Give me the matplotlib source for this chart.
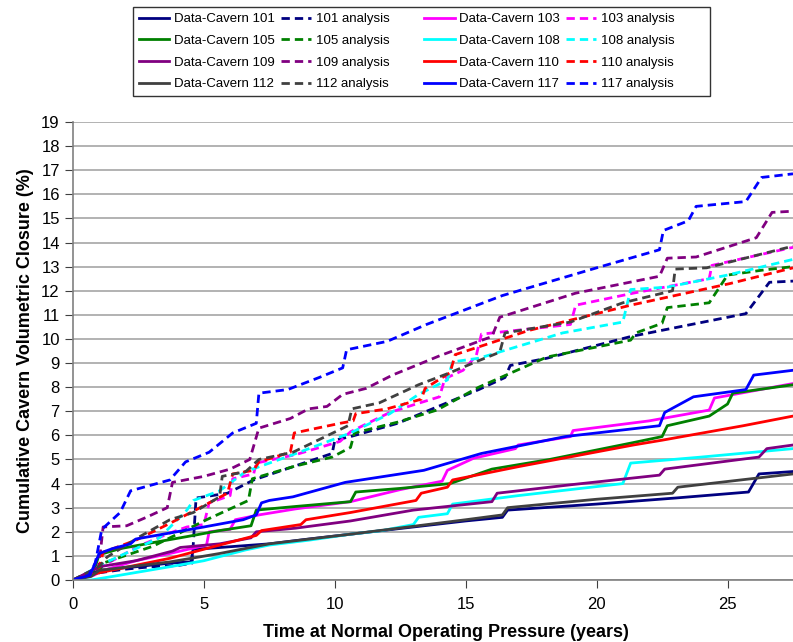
import matplotlib.pyplot as plt
import numpy as np

plt.rcParams['font.family'] = ['Liberation Sans', 'DejaVu Sans']

# ---- data (years, % closure) ----
t_101 = [0, 0.5, 1.0, 2.4, 3.7, 4.5, 4.6, 5.0, 7.5, 9.0, 10.6, 13.0, 15.0, 16.4, 16.6, 20.0, 23.0, 25.8, 26.2, 27.5]
y_101 = [0, 0.15, 0.4, 0.55, 0.7, 0.75, 1.3, 1.3, 1.5, 1.7, 1.9, 2.2, 2.45, 2.6, 2.9, 3.15, 3.4, 3.65, 4.4, 4.5]
t_101a = [0, 1.0, 2.0, 3.0, 4.0, 4.55, 4.7, 5.9, 6.9, 8.4, 9.9, 10.0, 10.6, 12.4, 15.5, 16.5, 16.7, 18.1, 21.3, 25.7, 26.6, 27.5]
y_101a = [0, 0.3, 0.45, 0.55, 0.6, 0.7, 3.4, 3.6, 4.15, 4.7, 5.25, 5.8, 5.95, 6.5, 7.9, 8.4, 8.9, 9.2, 10.1, 11.05, 12.35, 12.4]

t_103 = [0, 0.8, 1.15, 2.4, 3.7, 4.7, 5.1, 5.2, 6.0, 6.2, 7.1, 8.5, 10.6, 12.5, 14.1, 14.3, 15.3, 16.9, 17.0, 19.0, 19.1, 22.0, 24.3, 24.5, 27.5]
y_103 = [0, 0.2, 0.4, 0.8, 1.1, 1.35, 1.45, 2.0, 2.1, 2.5, 2.7, 2.95, 3.25, 3.75, 4.1, 4.55, 5.05, 5.45, 5.6, 5.95, 6.2, 6.6, 7.05, 7.55, 8.15]
t_103a = [0, 1.0, 2.5, 3.7, 4.35, 5.0, 5.2, 6.0, 6.1, 6.9, 7.0, 8.5, 10.2, 10.6, 12.1, 13.1, 14.0, 14.2, 14.9, 15.4, 15.6, 19.0, 19.2, 21.4, 24.3, 24.4, 27.5]
y_103a = [0, 0.5, 1.4, 1.95, 2.2, 2.3, 3.2, 3.5, 4.2, 4.4, 4.85, 5.2, 5.75, 6.15, 6.95, 7.3, 7.6, 8.35, 8.7, 9.3, 10.2, 10.6, 11.4, 11.9, 12.5, 13.05, 13.8]

t_105 = [0, 0.8, 1.0, 1.8, 3.05, 4.35, 5.6, 6.8, 7.0, 8.5, 10.6, 10.8, 12.5, 14.4, 16.0, 18.2, 21.4, 22.5, 22.7, 24.3, 25.0, 25.2, 27.5]
y_105 = [0, 0.4, 1.05, 1.3, 1.55, 1.8, 2.05, 2.25, 2.9, 3.05, 3.25, 3.65, 3.8, 4.0, 4.6, 5.0, 5.7, 5.95, 6.4, 6.8, 7.3, 7.75, 8.1]
t_105a = [0, 1.0, 1.15, 3.05, 5.1, 6.7, 6.85, 8.4, 9.9, 10.6, 10.75, 12.4, 13.9, 15.5, 18.1, 21.3, 21.5, 22.5, 22.7, 24.3, 25.0, 26.3, 27.5]
y_105a = [0, 0.3, 0.7, 1.4, 2.5, 3.3, 4.2, 4.7, 5.1, 5.5, 6.1, 6.55, 7.05, 8.0, 9.25, 9.95, 10.25, 10.65, 11.3, 11.5, 12.65, 12.85, 13.0]

t_108 = [0, 0.7, 1.8, 3.7, 5.0, 6.6, 7.5, 9.0, 10.6, 11.8, 13.0, 13.2, 14.3, 14.5, 17.0, 21.0, 21.3, 24.0, 27.5]
y_108 = [0, 0.0, 0.2, 0.55, 0.8, 1.25, 1.45, 1.65, 1.9, 2.05, 2.3, 2.6, 2.75, 3.15, 3.5, 4.0, 4.85, 5.1, 5.45]
t_108a = [0, 1.4, 3.3, 4.35, 4.6, 5.6, 6.6, 8.4, 10.6, 12.1, 13.2, 14.3, 14.5, 15.5, 18.7, 21.0, 21.3, 22.7, 25.0, 27.5]
y_108a = [0, 0.8, 1.75, 2.9, 3.3, 3.7, 4.5, 5.2, 6.1, 6.9, 7.7, 8.3, 9.05, 9.2, 10.25, 10.7, 12.05, 12.15, 12.65, 13.3]

t_109 = [0, 1.0, 2.4, 3.8, 4.1, 5.6, 6.8, 7.0, 8.5, 10.6, 13.0, 16.0, 16.2, 19.0, 22.4, 22.6, 26.2, 26.5, 27.5]
y_109 = [0, 0.55, 0.8, 1.2, 1.35, 1.5, 1.75, 2.0, 2.15, 2.45, 2.9, 3.25, 3.6, 3.95, 4.35, 4.6, 5.1, 5.45, 5.6]
t_109a = [0, 0.9, 1.0, 1.15, 2.05, 2.8, 3.6, 3.8, 5.0, 6.0, 6.75, 7.1, 8.3, 9.0, 9.7, 10.3, 11.2, 12.2, 14.0, 16.0, 16.3, 19.2, 22.4, 22.7, 23.8, 26.1, 26.7, 27.5]
y_109a = [0, 0.3, 0.7, 2.2, 2.25, 2.6, 3.0, 4.05, 4.3, 4.6, 5.0, 6.3, 6.7, 7.1, 7.2, 7.7, 7.95, 8.5, 9.3, 10.1, 10.9, 11.9, 12.6, 13.35, 13.4, 14.2, 15.25, 15.3]

t_110 = [0, 1.0, 3.7, 5.6, 7.0, 7.2, 8.7, 8.9, 10.6, 13.1, 13.3, 14.3, 14.5, 17.0, 21.4, 22.5, 25.6, 27.5]
y_110 = [0, 0.3, 0.9, 1.45, 1.85, 2.05, 2.3, 2.5, 2.8, 3.3, 3.6, 3.85, 4.15, 4.7, 5.6, 5.8, 6.4, 6.8]
t_110a = [0, 1.0, 1.15, 2.4, 3.7, 4.85, 5.9, 6.1, 6.9, 7.1, 8.3, 8.45, 10.2, 10.7, 10.8, 12.0, 13.3, 13.45, 14.4, 14.6, 17.4, 21.3, 25.1, 27.5]
y_110a = [0, 0.5, 1.15, 1.65, 2.35, 3.0, 3.6, 4.4, 4.55, 4.9, 5.3, 6.1, 6.5, 6.6, 6.9, 7.1, 7.5, 7.95, 8.6, 9.35, 10.35, 11.4, 12.3, 12.95]

t_112 = [0, 0.7, 1.0, 3.7, 5.6, 7.5, 10.6, 15.0, 16.4, 16.6, 20.0, 22.9, 23.1, 27.5]
y_112 = [0, 0.15, 0.4, 0.75, 1.1, 1.5, 1.9, 2.5, 2.7, 3.0, 3.35, 3.6, 3.85, 4.4]
t_112a = [0, 1.0, 1.3, 2.55, 3.7, 4.6, 5.6, 5.7, 6.6, 7.1, 8.4, 10.5, 10.65, 11.7, 13.2, 14.4, 15.5, 16.3, 16.5, 19.0, 21.0, 22.9, 23.0, 24.2, 27.5]
y_112a = [0, 0.55, 0.95, 1.8, 2.5, 2.8, 3.45, 4.3, 4.5, 5.0, 5.3, 6.4, 7.1, 7.35, 8.1, 8.6, 9.1, 9.45, 10.25, 10.7, 11.5, 12.0, 12.9, 12.95, 13.85]

t_117 = [0, 0.65, 1.0, 1.5, 2.2, 2.4, 3.7, 5.0, 6.5, 7.0, 7.2, 7.5, 8.4, 10.4, 11.0, 13.4, 15.6, 18.8, 22.4, 22.6, 23.7, 25.7, 26.0, 27.5]
y_117 = [0, 0.2, 1.1, 1.3, 1.5, 1.7, 1.95, 2.2, 2.5, 2.7, 3.2, 3.3, 3.45, 4.05, 4.15, 4.55, 5.25, 5.95, 6.4, 6.95, 7.6, 7.9, 8.5, 8.7]
t_117a = [0, 0.6, 0.85, 1.1, 1.4, 1.8, 2.2, 3.7, 4.3, 5.2, 6.1, 7.0, 7.1, 8.2, 9.4, 10.3, 10.45, 12.0, 13.5, 16.4, 20.0, 22.4, 22.55, 23.5, 23.8, 25.7, 26.3, 27.5]
y_117a = [0, 0.2, 0.7, 2.1, 2.4, 2.8, 3.7, 4.15, 4.9, 5.3, 6.1, 6.5, 7.75, 7.9, 8.4, 8.8, 9.55, 9.9, 10.6, 11.8, 12.95, 13.7, 14.5, 14.9, 15.5, 15.7, 16.7, 16.85]

caverns = ['101', '103', '105', '108', '109', '110', '112', '117']
colors = {'101': '#000080', '103': '#FF00FF', '105': '#008000', '108': '#00FFFF',
          '109': '#800080', '110': '#FF0000', '112': '#404040', '117': '#0000FF'}
data = {'101': (t_101, y_101, t_101a, y_101a), '103': (t_103, y_103, t_103a, y_103a),
        '105': (t_105, y_105, t_105a, y_105a), '108': (t_108, y_108, t_108a, y_108a),
        '109': (t_109, y_109, t_109a, y_109a), '110': (t_110, y_110, t_110a, y_110a),
        '112': (t_112, y_112, t_112a, y_112a), '117': (t_117, y_117, t_117a, y_117a)}

fig = plt.figure(figsize=(7.93, 6.42), dpi=100)
ax = fig.add_axes([73 / 793, 62 / 642, 720 / 793, 458 / 642])

handles = {}
for c in caverns:
    t, y, ta, ya = data[c]
    l1, = ax.plot(t, y, color=colors[c], lw=2, label='Data-Cavern ' + c)
    # trailing spaces pad the analysis column like the original legend
    l2, = ax.plot(ta, ya, color=colors[c], lw=2, ls=(0, (3, 1.8)), label=c + ' analysis        ')
    handles[c] = (l1, l2)

ax.set_xlim(0, 27.5)
ax.set_ylim(0, 19)
ax.set_yticks(np.arange(0, 20, 1))
ax.set_xticks(np.arange(0, 26, 5))
ax.grid(axis='y', color='#a6a6a6', lw=1.2)
ax.set_axisbelow(True)
for s in ['top', 'right']:
    ax.spines[s].set_visible(False)
for s in ['left', 'bottom']:
    ax.spines[s].set_color('#808080')
    ax.spines[s].set_linewidth(1.2)
ax.tick_params(direction='out', length=6, labelsize=12, color='#404040')
ax.tick_params(axis='x', pad=6)

ax.set_xlabel('Time at Normal Operating Pressure (years)', fontsize=13, fontweight='bold', labelpad=9)
ax.xaxis.set_label_coords(0.518, -0.095)
ax.set_ylabel('Cumulative Cavern Volumetric Closure (%)', fontsize=13, fontweight='bold', labelpad=5)

# legend: columns = data (left pair), analysis (left pair), data (right pair), analysis (right pair)
left = ['101', '105', '109', '112']
right = ['103', '108', '110', '117']
order = [handles[c][0] for c in left] + [handles[c][1] for c in left] + \
        [handles[c][0] for c in right] + [handles[c][1] for c in right]
leg = fig.legend(handles=order, labels=[h.get_label() for h in order], ncol=4,
                 loc='upper left', bbox_to_anchor=(133 / 793, 1 - 7 / 642), fontsize=9.5,
                 frameon=True, fancybox=False, edgecolor='black', handlelength=2.3,
                 handletextpad=0.35, columnspacing=0.45, labelspacing=0.72,
                 borderpad=0.45, borderaxespad=0)
leg.get_frame().set_linewidth(1)

fig.savefig('out.png', dpi=100)
